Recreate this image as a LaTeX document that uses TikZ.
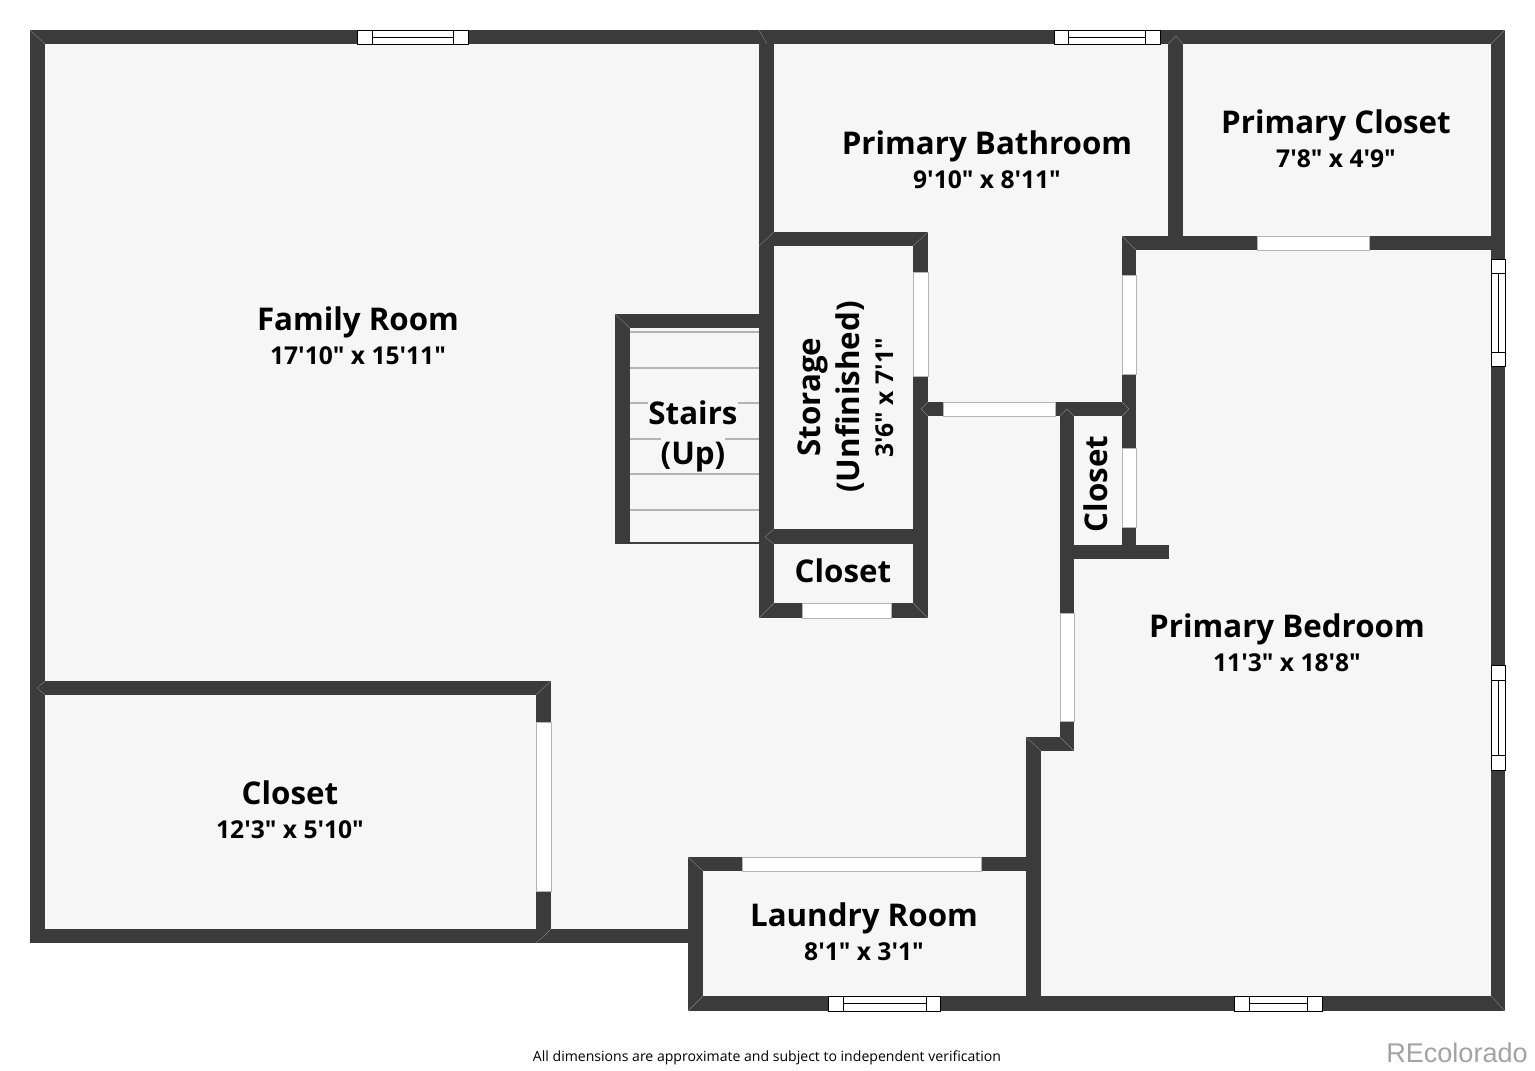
\documentclass[tikz,border=0pt]{standalone}
\usepackage{fontspec}
\setmainfont[Ligatures=TeXOff]{Open Sans}
\newfontfamily\logofont{Liberation Sans}
\definecolor{wallgray}{HTML}{3B3B3B}
\definecolor{floorgray}{HTML}{F6F6F6}
\definecolor{edgegray}{HTML}{B4B4B4}
\definecolor{logogray}{HTML}{A3A3A3}
\begin{document}
\begin{tikzpicture}[x=0.01cm,y=-0.01cm]
\tikzset{wall/.style={fill=wallgray}}
\tikzset{opening/.style={fill=white,draw=edgegray,line width=0.25pt}}
\tikzset{sash/.style={draw=black,line width=0.25pt}}
\tikzset{mitre/.style={draw=gray,line width=0.12pt}}
\tikzset{tread/.style={draw=edgegray,line width=0.4pt}}
\tikzset{roomname/.style={font=\fontsize{8.9pt}{11pt}\selectfont\bfseries,inner sep=0pt,anchor=base}}
\tikzset{roomsize/.style={font=\fontsize{7pt}{9pt}\selectfont\bfseries,inner sep=0pt,anchor=base}}
\useasboundingbox (0,0) rectangle (1535,1071);
% Draw the floor
\fill[floorgray] (30,30) -- (1505,30) -- (1505,1011) -- (688,1011) -- (688,943) -- (30,943) -- cycle;
% the stair treads
\foreach \y in {332,368,403,439,474,510} {
\draw[tread] (630,\y) -- (759,\y);
}
\draw[black!75,line width=0.4pt] (630,543) -- (759,543);
% Draw the walls
\foreach \a/\b/\c/\d in {30/30/1505/44,30/30/45/943,1491/30/1505/1011,30/929/695/943,688/996/1505/1011,
688/857/703/1011,688/857/1033/871,1026/737/1041/1011,1026/737/1074/751,1060/402/1074/751,
1060/545/1169/559,1055/402/1136/416,1122/236/1136/559,1122/236/1505/250,1168/30/1183/250,
759/30/774/618,759/232/928/246,913/232/928/618,759/529/928/544,759/603/928/618,
615/314/760/328,615/314/630/544,928/402/943/416,30/681/551/695,536/681/551/943} {
\fill[wall] (\a,\b) rectangle (\c,\d);
}
% the corners
\foreach \a/\b/\c/\d in {30/30/45/44,1505/30/1491/44,1505/1011/1491/996,688/1011/703/996,688/857/703/871,
615/314/630/328,759/30/767/44,774/232/759/246,928/232/913/246,928/618/913/603,759/618/774/603,
774/529/765/537,765/537/774/544,1026/737/1041/751,1060/737/1074/751,1122/236/1136/250,1168/44/1176/36,
1183/44/1176/36,45/681/37/688,45/695/37/688,551/681/536/695,536/943/544/936,551/929/544/936,
1074/416/1067/409,1060/416/1067/409,1122/402/1129/409,1122/416/1129/409,928/402/921/409,928/416/921/409} {
\draw[mitre] (\a,\b) -- (\c,\d);
}
% the plain openings
\foreach \a/\b/\c/\d in {1257/236/1369/250,913/272/928/376,943/402/1055/416,1122/275/1136/374,
1122/448/1136/527,802/603/891/618,1060/613/1074/721,536/722/551/891,742/857/981/871} {
\filldraw[opening] (\a,\b) rectangle (\c,\d);
}
% the windows -- along the top and the bottom
\foreach \a/\b/\c/\d/\y/\z in {357/372/453/468/30/44,1054/1068/1145/1160/30/44,828/843/926/940/996/1011,1234/1249/1307/1322/996/1011} {
\filldraw[fill=white,sash] (\a,\y) rectangle (\d,\z);
\draw[sash] (\b,\y) -- (\b,\z);
\draw[sash] (\c,\y) -- (\c,\z);
\draw[sash] (\b,{(\y+\z)/2}) -- (\c,{(\y+\z)/2});
}
% the windows -- along the right
\foreach \a/\b/\c/\d in {259/273/352/366,665/680/755/770} {
\filldraw[fill=white,sash] (1491,\a) rectangle (1505,\d);
\draw[sash] (1491,\b) -- (1505,\b);
\draw[sash] (1491,\c) -- (1505,\c);
\draw[sash] (1498,\b) -- (1498,\c);
}
% the rooms
\node[roomname] (familyname) at (358,331) {Family Room};
\node[roomsize] (familysize) at (358,365) {17'10" x 15'11"};
\node[roomname] (bathname) at (987,155) {Primary Bathroom};
\node[roomsize] (bathsize) at (987,189) {9'10" x 8'11"};
\node[roomname] (pclosetname) at (1336,134) {Primary Closet};
\node[roomsize] (pclosetsize) at (1336,168) {7'8" x 4'9"};
\node[roomname] (bedname) at (1287,638) {Primary Bedroom};
\node[roomsize] (bedsize) at (1287,672) {11'3" x 18'8"};
\node[roomname] (closetname) at (290,805) {Closet};
\node[roomsize] (closetsize) at (290,839) {12'3" x 5'10"};
\node[roomname] (laundryname) at (864,927) {Laundry Room};
\node[roomsize] (laundrysize) at (864,961) {8'1" x 3'1"};
\node[roomname] (smallcloset) at (843,583) {Closet};
\node[roomname,rotate=90] (sidecloset) at (1107,484) {Closet};
\node[roomname,fill=floorgray,text height=6.9pt,text depth=0pt] (stairsname) at (693,425) {Stairs};
\node[roomname,fill=floorgray,text height=7.7pt,text depth=2.4pt] (stairsup) at (693,465) {(Up)};
\node[roomname,rotate=90] (storagename) at (820,397) {Storage};
\node[roomname,rotate=90] (storagenote) at (859,397) {(Unfinished)};
\node[roomsize,rotate=90] (storagesize) at (893,398) {3'6" x 7'1"};
% the notes
\node[font=\fontsize{4pt}{5pt}\selectfont,inner sep=0pt] (note) at (767,1058) {All dimensions are approximate and subject to independent verification};
\node[font=\fontsize{7.7pt}{9pt}\selectfont\logofont,text=logogray,inner sep=0pt] (logo) at (1457,1053) {REcolorado};
\end{tikzpicture}
\end{document}
